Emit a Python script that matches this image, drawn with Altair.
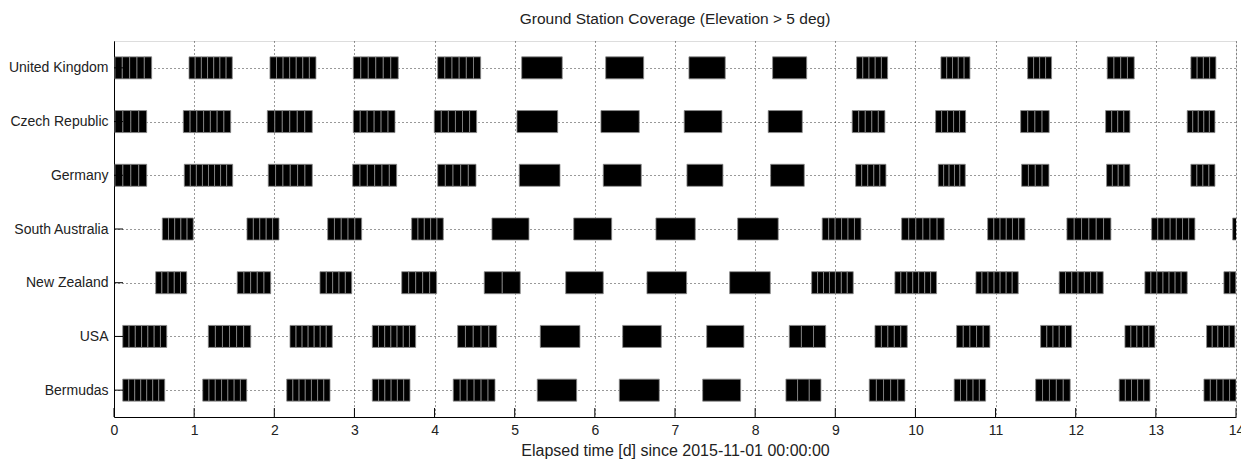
import altair as alt
import pandas as pd

stations = ["United Kingdom", "Czech Republic", "Germany", "South Australia",
            "New Zealand", "USA", "Bermudas"]

# cluster start / end (days) and number of passes drawn in each cluster
uk_start = [0.012, 0.936, 1.946, 2.986, 4.039, 5.087, 6.135, 7.174, 8.218, 9.266, 10.318, 11.400, 12.393, 13.437]
uk_end   = [0.470, 1.476, 2.520, 3.547, 4.575, 5.593, 6.609, 7.627, 8.643, 9.653, 10.680, 11.699, 12.730, 13.749]
uk_n     = [5, 7, 7, 6, 6, 1, 1, 1, 1, 5, 5, 4, 4, 4]

cz_start = [0.012, 0.865, 1.913, 2.986, 3.996, 5.028, 6.076, 7.115, 8.163, 9.211, 10.252, 11.313, 12.373, 13.391]
cz_end   = [0.408, 1.456, 2.474, 3.506, 4.525, 5.536, 6.554, 7.586, 8.588, 9.619, 10.626, 11.669, 12.676, 13.737]
cz_n     = [4, 7, 6, 6, 6, 1, 1, 1, 1, 5, 5, 4, 4, 5]

de_start = [0.012, 0.877, 1.925, 2.978, 4.039, 5.057, 6.105, 7.149, 8.193, 9.254, 10.285, 11.325, 12.385, 13.437]
de_end   = [0.408, 1.481, 2.474, 3.527, 4.517, 5.565, 6.579, 7.598, 8.613, 9.632, 10.622, 11.666, 12.676, 13.737]
de_n     = [4, 8, 6, 6, 5, 1, 1, 1, 1, 5, 5, 4, 4, 4]

sa_start = [0.603, 1.659, 2.666, 3.714, 4.716, 5.736, 6.762, 7.782, 8.837, 9.828, 10.901, 11.890, 12.947, 13.958]
sa_end   = [0.989, 2.059, 3.090, 4.109, 5.178, 6.210, 7.253, 8.288, 9.320, 10.359, 11.366, 12.439, 13.487, 14.300]
sa_n     = [5, 5, 5, 5, 1, 1, 1, 1, 6, 6, 6, 6, 7, 5]

nz_start = [0.520, 1.538, 2.570, 3.590, 4.620, 5.636, 6.650, 7.682, 8.705, 9.744, 10.755, 11.794, 12.863, 13.849]
nz_end   = [0.907, 1.955, 2.966, 4.026, 5.069, 6.105, 7.145, 8.189, 9.224, 10.264, 11.283, 12.343, 13.391, 14.300]
nz_n     = [5, 5, 5, 5, 2, 1, 1, 1, 7, 7, 7, 7, 7, 6]

us_start = [0.109, 1.177, 2.196, 3.223, 4.288, 5.319, 6.347, 7.395, 8.426, 9.495, 10.514, 11.562, 12.614, 13.633]
us_end   = [0.658, 1.706, 2.724, 3.764, 4.775, 5.814, 6.829, 7.860, 8.880, 9.898, 10.929, 11.949, 12.988, 13.986]
us_n     = [7, 6, 7, 7, 5, 1, 1, 1, 3, 5, 5, 5, 5, 5]

bm_start = [0.109, 1.107, 2.155, 3.223, 4.233, 5.281, 6.305, 7.345, 8.384, 9.424, 10.484, 11.500, 12.543, 13.600]
bm_end   = [0.633, 1.656, 2.695, 3.693, 4.754, 5.773, 6.804, 7.819, 8.821, 9.869, 10.876, 11.931, 12.926, 14.000]
bm_n     = [7, 7, 7, 6, 6, 1, 1, 1, 3, 5, 5, 5, 5, 5]

x_ticks = list(range(0, 15))

series = [(uk_start, uk_end, uk_n), (cz_start, cz_end, cz_n), (de_start, de_end, de_n),
          (sa_start, sa_end, sa_n), (nz_start, nz_end, nz_n), (us_start, us_end, us_n),
          (bm_start, bm_end, bm_n)]

n_st = len(stations)
half = 0.205
rows = []
for i, (st, (s, e, n)) in enumerate(zip(stations, series)):
    r = n_st - i
    for a, b, k in zip(s, e, n):
        w = (b - a) / k
        for j in range(k):
            rows.append({"station": st, "row": r, "x0": a + j * w, "x1": a + (j + 1) * w,
                         "y0": r - half, "y1": r + half})
df = pd.DataFrame(rows)

label_arr = "[''," + ",".join("'" + s + "'" for s in reversed(stations)) + "]"

W, H = 1122, 376
FONT = "Liberation Sans"

xscale = alt.Scale(domain=[0, 14], nice=False, zero=False)
yscale = alt.Scale(domain=[0.5, 7.5], nice=False, zero=False)

bars = alt.Chart(df).mark_rect(color="black", stroke="#8a8a8a", strokeWidth=0.8, clip=True).encode(
    x=alt.X("x0:Q", scale=xscale,
            axis=alt.Axis(values=x_ticks, format="d", title="Elapsed time [d] since 2015-11-01 00:00:00",
                          grid=True, gridDash=[1, 3], gridColor="#000", gridOpacity=0.8,
                          tickSize=0, labelPadding=6, titleY=25, titleBaseline="top",
                          domainColor="#000", labelColor="#222", titleColor="#222",
                          labelFont=FONT, titleFont=FONT, labelFontSize=14, titleFontSize=16,
                          titleFontWeight="normal", labelFlush=False)),
    x2="x1:Q",
    y=alt.Y("y0:Q", scale=yscale,
            axis=alt.Axis(values=list(range(1, n_st + 1)), title=None,
                          labelExpr=label_arr + "[datum.value]",
                          grid=True, gridDash=[1, 3], gridColor="#000", gridOpacity=0.8,
                          tickSize=0, labelPadding=6, domainColor="#000", labelColor="#222",
                          labelFont=FONT, labelFontSize=14)),
    y2="y1:Q",
)

xt = pd.DataFrame({"t": x_ticks})
xticks = alt.Chart(xt).mark_rule(color="black", strokeWidth=1).encode(
    x=alt.X("t:Q", scale=xscale), y=alt.value(H), y2=alt.value(H - 9))

yt = pd.DataFrame({"r": list(range(1, n_st + 1))})
yticks = alt.Chart(yt).mark_rule(color="black", strokeWidth=1).encode(
    y=alt.Y("r:Q", scale=yscale), x=alt.value(0), x2=alt.value(9))

chart = alt.layer(bars, xticks, yticks).properties(
    width=W, height=H,
    title=alt.Title("Ground Station Coverage (Elevation > 5 deg)", font=FONT, fontSize=15.5,
                    fontWeight="normal", color="#222", offset=14, anchor="middle"),
    autosize=alt.AutoSizeParams(type="none"),
    padding={"left": 114, "top": 41, "right": 5, "bottom": 42},
).configure_view(stroke=None).configure(background="white")

chart.save("out.html", embed_options={"renderer": "svg", "actions": False})
